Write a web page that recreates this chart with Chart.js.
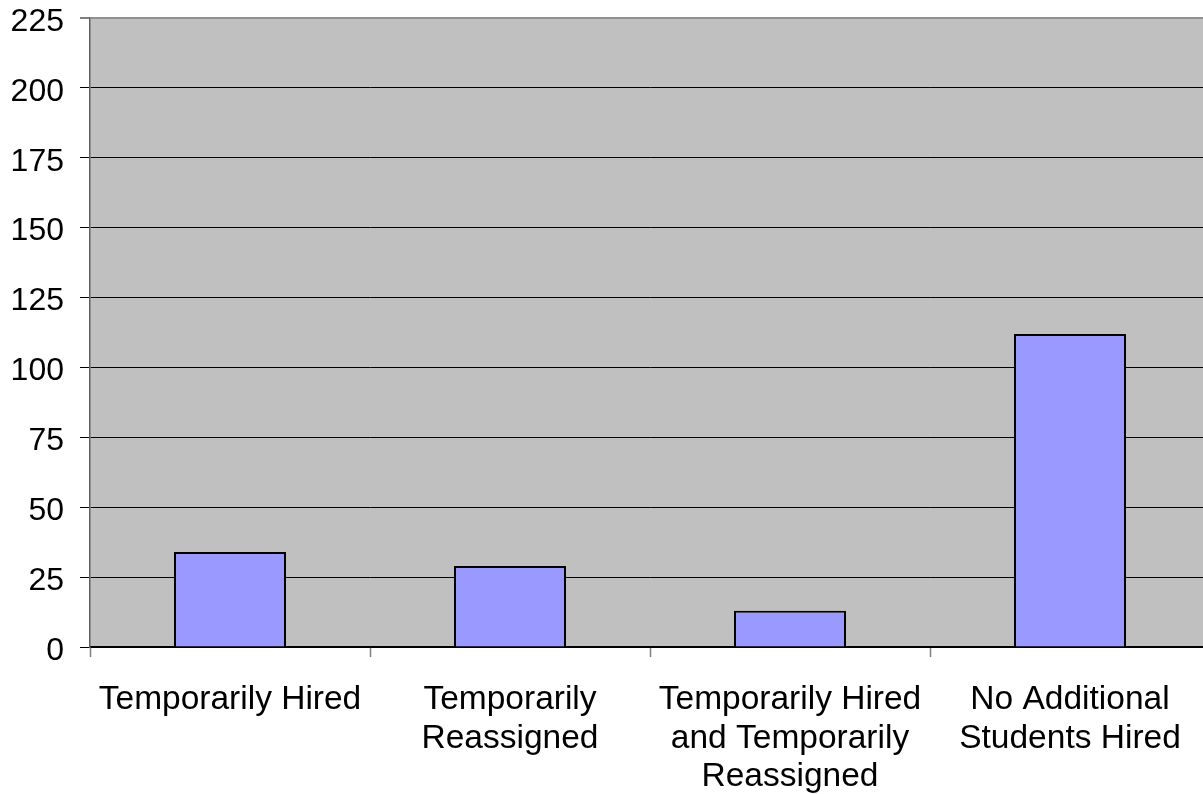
<!DOCTYPE html>
<html>
<head>
<meta charset="utf-8">
<script src="https://cdn.jsdelivr.net/npm/chart.js@4/dist/chart.umd.min.js"></script>
<style>
  html, body { margin: 0; padding: 0; background: #ffffff; overflow: hidden; }
  #wrap { width: 1220px; height: 794px; }
</style>
</head>
<body>
<div id="wrap"><canvas id="chart" width="1220" height="794"></canvas></div>
<script>
// Categories (multi-line labels) and counts
const categories = [
  ['Temporarily Hired'],
  ['Temporarily', 'Reassigned'],
  ['Temporarily Hired', 'and Temporarily', 'Reassigned'],
  ['No Additional', 'Students Hired']
];
const counts = [34, 29, 13, 112];
const yTicks = [0, 25, 50, 75, 100, 125, 150, 175, 200, 225];

const FONT = "'Liberation Sans', Arial, sans-serif";

// Grey plot-area fill behind grid lines and bars
const plotBackground = {
  id: 'plotBackground',
  beforeDraw(chart) {
    const { ctx, chartArea: a } = chart;
    ctx.save();
    ctx.fillStyle = '#c0c0c0';
    ctx.fillRect(a.left, a.top, a.right - a.left, a.bottom - a.top);
    ctx.restore();
  }
};

new Chart(document.getElementById('chart'), {
  type: 'bar',
  data: {
    labels: categories,
    datasets: [{
      data: counts,
      backgroundColor: '#9999ff',
      borderColor: '#000000',
      borderWidth: 2,
      categoryPercentage: 1,
      barPercentage: 0.4
    }]
  },
  options: {
    responsive: false,
    animation: false,
    layout: { padding: { top: 18, right: 10, left: 0, bottom: 0 } },
    plugins: {
      legend: { display: false },
      tooltip: { enabled: false }
    },
    scales: {
      x: {
        grid: {
          offset: true,
          drawOnChartArea: false,
          drawTicks: true,
          tickLength: 10,
          tickColor: '#808080',
          tickWidth: 1.5
        },
        border: { display: true, color: '#000000', width: 1.5 },
        ticks: {
          color: '#000000',
          padding: 23,
          maxRotation: 0,
          autoSkip: false,
          font: { family: FONT, size: 33.5, lineHeight: 1.16 }
        },
        afterFit(scale) {
          scale.height = 147;
          scale.paddingLeft = 0;
          scale.paddingRight = 0;
        }
      },
      y: {
        min: 0,
        max: 225,
        afterBuildTicks(scale) { scale.ticks = yTicks.map(v => ({ value: v })); },
        grid: {
          color: ctx => ctx.tick && ctx.tick.value === 225 ? '#909090' : '#000000',
          lineWidth: ctx => ctx.tick && ctx.tick.value === 225 ? 2 : 1,
          tickColor: '#000000',
          tickLength: 10,
          tickWidth: 1
        },
        border: { display: true, color: '#606060', width: 1.5 },
        ticks: {
          color: '#000000',
          padding: 16,
          // blank first line nudges each value slightly below its grid line
          callback: v => ['', String(v)],
          font: { family: FONT, size: 32, lineHeight: '8px' }
        },
        afterFit(scale) {
          scale.width = 90;
          scale.paddingTop = 0;
          scale.paddingBottom = 0;
        }
      }
    }
  },
  plugins: [plotBackground]
});
</script>
</body>
</html>
